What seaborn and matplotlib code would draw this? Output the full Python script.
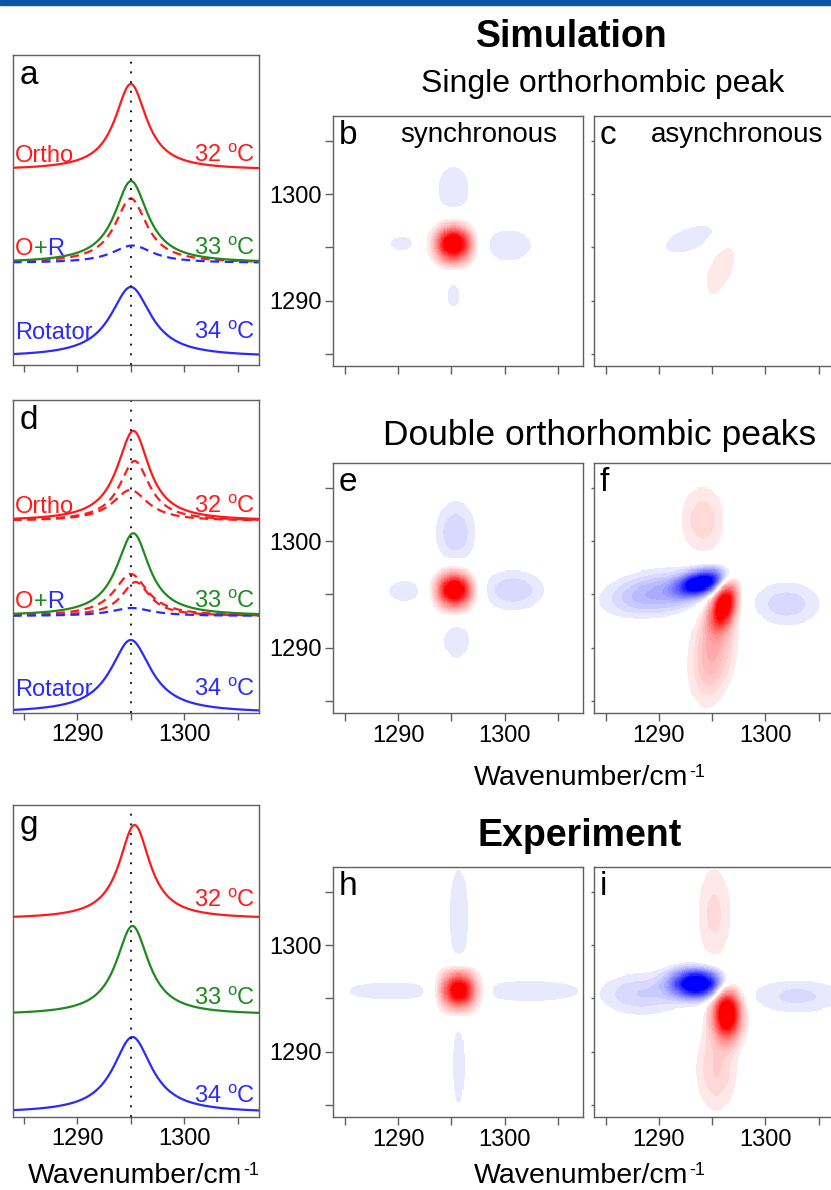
import numpy as np
import pandas as pd
import matplotlib
matplotlib.use("Agg")
import matplotlib.pyplot as plt
from matplotlib.colors import ListedColormap
from matplotlib.patches import Rectangle
import seaborn as sns

sns.set_theme(style="ticks")
plt.rcParams['font.family'] = ['Liberation Sans', 'DejaVu Sans']
plt.rcParams['mathtext.fontset'] = 'custom'
plt.rcParams['mathtext.rm'] = 'Liberation Sans'
plt.rcParams['text.color'] = 'black'

W, H = 831, 1190
RED = '#ff1a1a'
GREEN = '#1e8a1e'
BLUE = '#2a2aff'
SPINE = '#5f5f5f'

spec_xlim = (1283.96, 1306.95)
temps = ["32", "33", "34"]

# panel a: single orthorhombic peak
a_offsets = [1.95, 1.02, 0.08]
a_centres = [[1295.0], [1295.0, 1295.15], [1295.0]]
a_widths = [[1.8], [1.8, 2.3], [2.3]]
a_heights = [[0.86], [0.645, 0.175], [0.70]]
a_dashed = [[], [RED, BLUE], []]
a_label_y = [2.03, 1.10, 0.26]

# panel d: double orthorhombic peaks
d_offsets = [1.92, 0.97, 0.0]
d_centres = [[1295.35, 1294.95], [1295.0, 1295.45, 1295.1], [1295.0]]
d_widths = [[1.7, 2.0], [1.9, 1.6, 2.3], [2.3]]
d_heights = [[0.60, 0.31], [0.42, 0.34, 0.08], [0.73]]
d_dashed = [[RED, RED], [RED, RED, BLUE], []]
d_label_y = [2.00, 1.05, 0.17]

# panel g: experiment
g_offsets = [1.98, 1.02, 0.04]
g_centres = [[1295.35], [1295.15], [1295.15]]
g_widths = [[1.75], [1.85], [2.2]]
g_heights = [[0.94], [0.89], [0.76]]
g_dashed = [[], [], []]
g_label_y = [2.10, 1.12, 0.14]

row_colors = [RED, GREEN, BLUE]

# ---- 2D correlation maps: lobes (x, y, sigma_u, sigma_v, angle, amplitude) ----
grid_lo, grid_step, grid_n = 1283.85, 0.1, 235
b_lobes = [(1295.2, 1295.3, 1.12, 1.12, 0, 1.3),
           (1295.2, 1300.5, 1.37, 2.0, 0, -0.14),
           (1300.4, 1295.2, 2.0, 1.37, 0, -0.14),
           (1295.2, 1290.45, 0.8, 1.4, 0, -0.11),
           (1290.35, 1295.35, 1.4, 0.8, 0, -0.11)]
c_lobes = [(1293.0, 1295.8, 2.6, 1.1, 20, -0.13)]
e_lobes = [(1295.3, 1295.4, 1.1, 1.1, 0, 1.3),
           (1295.4, 1300.8, 1.45, 2.3, 0, -0.19),
           (1300.8, 1295.4, 2.3, 1.45, 0, -0.19),
           (1295.5, 1290.6, 1.2, 1.6, 0, -0.13),
           (1290.6, 1295.3, 1.5, 1.0, 0, -0.13)]
f_lobes = [(1294.0, 1296.1, 1.5, 0.75, 15, -1.2),
           (1289.8, 1295.1, 3.3, 1.4, 8, -0.33),
           (1294.1, 1302.0, 2.5, 1.6, 90, 0.18)]
h_lobes = [(1295.7, 1295.75, 1.12, 1.17, 0, 1.3),
           (1302.5, 1295.7, 4.7, 1.0, 0, -0.13),
           (1289.0, 1295.7, 4.2, 0.9, 0, -0.12),
           (1295.7, 1302.8, 0.9, 4.5, 0, -0.13),
           (1295.7, 1288.5, 0.7, 4.5, 0, -0.11)]
i_lobes = [(1293.6, 1296.4, 1.6, 0.9, 0, -1.3),
           (1288.3, 1295.4, 2.9, 1.45, 0, -0.2),
           (1303.0, 1295.2, 3.6, 1.3, 0, -0.16)]

# stepped blue-white-red contour colours, white below |v| < 1/12
n_bins, n_steps, thr = 480, 16, 1 / 12
vals = (np.arange(n_bins) + 0.5) / n_bins * 2 - 1
cols = []
for v in vals:
    a = abs(v)
    if a < thr:
        f = 0.0
    else:
        lev = min(int((a - thr) / ((1 - thr) / n_steps)), n_steps - 1)
        f = 0.09 + lev / (n_steps - 1) * 0.91
    cols.append((1, 1 - f, 1 - f) if v > 0 else (1 - f, 1 - f, 1))
cmap = ListedColormap(cols)
cmap.set_over((1, 0, 0))
cmap.set_under((0, 0, 1))


def lorentz_sum(x, centres, widths, heights):
    y = np.zeros_like(x)
    for c, w, h in zip(centres, widths, heights):
        y += h / (1 + ((x - c) / w) ** 2)
    return y


def lobe_map(lobes, X, Y):
    Z = np.zeros_like(X)
    for cx, cy, su, sv, ang, amp in lobes:
        t = np.deg2rad(ang)
        u = (X - cx) * np.cos(t) + (Y - cy) * np.sin(t)
        v = -(X - cx) * np.sin(t) + (Y - cy) * np.cos(t)
        Z += amp * np.exp(-0.5 * ((u / su) ** 2 + (v / sv) ** 2))
    return Z


fig = plt.figure(figsize=(W / 100, H / 100), dpi=100)
fig.patches.append(Rectangle((0, 1 - 5 / H), 1, 5 / H, transform=fig.transFigure,
                             color='#0b56a4', zorder=10))


def px_axes(x0, y0, x1, y1):
    return fig.add_axes([x0 / W, 1 - y1 / H, (x1 - x0) / W, (y1 - y0) / H])


def style_spines(ax):
    for sp in ax.spines.values():
        sp.set_visible(True)
        sp.set_color(SPINE)
        sp.set_linewidth(1.0)


tick_wn = [1285, 1290, 1295, 1300, 1305]
tick_lab = ['', '1290', '', '1300', '']


def spectra_panel(ax, letter, offsets, centres, widths, heights, dashed, label_y,
                  ylim, names, show_labels):
    x = np.linspace(spec_xlim[0], spec_xlim[1], 700)
    for k in range(3):
        for c, w, h, col in zip(centres[k], widths[k], heights[k], dashed[k]):
            yy = offsets[k] + lorentz_sum(x, [c], [w], [h])
            sns.lineplot(x=x, y=yy, ax=ax, color=col, lw=1.6, ls=(0, (4, 2.5)))
        ys = offsets[k] + lorentz_sum(x, centres[k], widths[k], heights[k])
        sns.lineplot(x=x, y=ys, ax=ax, color=row_colors[k], lw=1.6)
        ax.text(1306.6, label_y[k], f"{temps[k]} $\\mathregular{{^o}}$C", color=row_colors[k],
                ha='right', va='baseline', fontsize=17)
    if names:
        ax.text(1284.2, label_y[0], "Ortho", color=RED, ha='left', va='baseline', fontsize=17)
        t1 = ax.text(1284.2, label_y[1], "O", color=RED, ha='left', va='baseline', fontsize=17)
        t2 = ax.annotate("+", xy=(1, 0), xycoords=t1, color=GREEN, ha='left', va='bottom',
                         fontsize=17)
        ax.annotate("R", xy=(1, 0), xycoords=t2, color=BLUE, ha='left', va='bottom', fontsize=17)
        ax.text(1284.2, label_y[2], "Rotator", color=BLUE, ha='left', va='baseline', fontsize=17)
    ax.axvline(1295, color='k', lw=1.4, ls=(0, (1, 4)))
    ax.set_xlim(*spec_xlim)
    ax.set_ylim(*ylim)
    ax.set_yticks([])
    ax.set_xticks(tick_wn)
    ax.set_xticklabels(tick_lab if show_labels else [''] * 5)
    ax.tick_params(axis='x', direction='out', length=5, width=1, color=SPINE,
                   labelcolor='black', labelsize=17, pad=3)
    ax.set_xlabel('')
    ax.set_ylabel('')
    style_spines(ax)
    ax.text(0.03, 0.985, letter, transform=ax.transAxes, ha='left', va='top', fontsize=24)


ax_a = px_axes(12.7, 55, 258.7, 365)
spectra_panel(ax_a, 'a', a_offsets, a_centres, a_widths, a_heights, a_dashed, a_label_y,
              (0, 3.10), True, False)
ax_d = px_axes(12.7, 400, 258.7, 713)
spectra_panel(ax_d, 'd', d_offsets, d_centres, d_widths, d_heights, d_dashed, d_label_y,
              (0, 3.13), True, True)
ax_g = px_axes(12.7, 805, 258.7, 1117)
spectra_panel(ax_g, 'g', g_offsets, g_centres, g_widths, g_heights, g_dashed, g_label_y,
              (0, 3.12), False, True)

wn_cells = grid_lo + grid_step * (np.arange(grid_n) + 0.5)
X, Y = np.meshgrid(wn_cells, wn_cells[::-1])
grid_hi = grid_lo + grid_step * grid_n


def map_panel(ax, lobes, asym, letter, xlabels, ylabels, first_col, note=None, note_x=0.27):
    Z = lobe_map(lobes, X, Y)
    if asym:
        Z = Z - lobe_map(lobes, Y, X)
    df = pd.DataFrame(Z, index=np.round(wn_cells[::-1], 2), columns=np.round(wn_cells, 2))
    sns.heatmap(df, ax=ax, cmap=cmap, vmin=-1, vmax=1, cbar=False,
                xticklabels=False, yticklabels=False)
    style_spines(ax)
    ax.set_xticks([(w - grid_lo) / grid_step for w in tick_wn])
    ax.set_yticks([(grid_hi - w) / grid_step for w in tick_wn])
    ax.set_xticklabels(tick_lab if xlabels else [''] * 5, rotation=0)
    ax.set_yticklabels(tick_lab if ylabels else [''] * 5, rotation=0)
    ax.tick_params(axis='x', direction='out', length=6, width=1, color=SPINE,
                   labelcolor='black', labelsize=17, pad=3, bottom=True)
    ax.tick_params(axis='y', direction='out', length=6 if first_col else 2, width=1,
                   color=SPINE, labelcolor='black', labelsize=17, pad=2, left=True)
    ax.set_xlabel('')
    ax.set_ylabel('')
    ax.text(0.025, 0.985, letter, transform=ax.transAxes, ha='left', va='top', fontsize=24)
    if note:
        ax.text(note_x, 0.975, note, transform=ax.transAxes, ha='left', va='top', fontsize=20)
    return ax


map_panel(px_axes(332.7, 116, 582.7, 366), b_lobes, False, 'b', False, True, True,
          'synchronous', 0.27)
map_panel(px_axes(593.5, 116, 843.5, 366), c_lobes, True, 'c', False, False, False,
          'asynchronous', 0.23)
map_panel(px_axes(332.7, 463, 582.7, 713), e_lobes, False, 'e', True, True, True)
map_panel(px_axes(593.5, 463, 843.5, 713), f_lobes, True, 'f', True, False, False)
ax_h = map_panel(px_axes(332.7, 867, 582.7, 1117), h_lobes, False, 'h', True, True, True)
map_panel(px_axes(593.5, 867, 843.5, 1117), i_lobes, True, 'i', True, False, False)


def ftext(x, y, s, **kw):
    return fig.text(x / W, 1 - y / H, s, **kw)


def wavenumber_label(cx, y):
    t = ftext(cx - 7, y, "Wavenumber/cm", ha='center', va='baseline', fontsize=20.5)
    ax_h.annotate("-1", xy=(1, 1), xycoords=t, xytext=(0.5, 1), textcoords='offset points',
                  ha='left', va='top', fontsize=13, annotation_clip=False)


ftext(572, 47, "Simulation", ha='center', va='baseline', fontsize=27, fontweight='bold')
ftext(603, 92, "Single orthorhombic peak", ha='center', va='baseline', fontsize=23)
ftext(600, 445, "Double orthorhombic peaks", ha='center', va='baseline', fontsize=25.5)
ftext(580, 846, "Experiment", ha='center', va='baseline', fontsize=27, fontweight='bold')
wavenumber_label(588, 785)
wavenumber_label(588, 1183)
wavenumber_label(142, 1183)

fig.savefig("out.png", dpi=100)
